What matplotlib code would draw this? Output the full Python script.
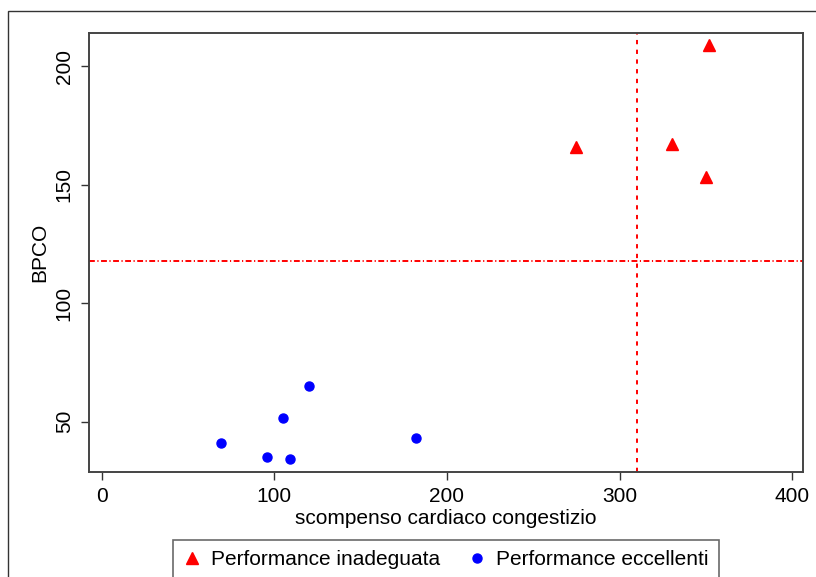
import matplotlib.pyplot as plt
from matplotlib.patches import Rectangle

plt.rcParams['font.family'] = ['Liberation Sans', 'DejaVu Sans']

# scompenso cardiaco congestizio (x) vs BPCO (y)
x_inadeguata = [274.7, 330.5, 349.9, 351.7]
y_inadeguata = [165.9, 167.3, 153.5, 209.1]
x_eccellenti = [69.1, 95.5, 109.0, 104.8, 120.2, 182.0]
y_eccellenti = [40.9, 35.0, 34.2, 51.6, 65.1, 43.1]
ref_x = 310
ref_y = 118
xticks = [0, 100, 200, 300, 400]
yticks = [50, 100, 150, 200]

fs = 15

fig = plt.figure(figsize=(8.16, 5.77), dpi=100)
ax = fig.add_axes([89/816, 105/577, 714/816, 439/577])

# outer graph region border (only top and left visible)
fig.patches.append(Rectangle((8/816, -0.1), 1.2, (577-11)/577 + 0.1,
                             transform=fig.transFigure, fill=False,
                             edgecolor='#333333', linewidth=1.0))

ax.plot(x_inadeguata, y_inadeguata, ls='none', marker='^', color='red',
        markersize=9, label='Performance inadeguata')
ax.plot(x_eccellenti, y_eccellenti, ls='none', marker='o', color='blue',
        markersize=6.5, label='Performance eccellenti')

# reference lines (dashes given in multiples of linewidth)
ax.axvline(ref_x, color='#ff0000', linewidth=1.4, dashes=(2.2, 2.8))
ax.axhline(ref_y, color='#ff0000', linewidth=1.4, dashes=(3, 1.3, 0.6, 1.3))

ax.set_xlim(-7.4, 406.3)
ax.set_ylim(28.8, 214.1)
ax.set_xticks(xticks)
ax.set_yticks(yticks)
ax.tick_params(labelsize=fs, length=6, width=1, color='#333333', pad=5)
for lbl in ax.get_yticklabels():
    lbl.set_rotation(90)
    lbl.set_va('center')
for s in ax.spines.values():
    s.set_color('#444444')
    s.set_linewidth(1.4)

ax.set_xlabel('scompenso cardiaco congestizio', fontsize=fs, labelpad=2)
ax.set_ylabel('BPCO', fontsize=fs, labelpad=4)

leg = fig.legend(handles=ax.get_lines()[:2], loc='upper center',
                 bbox_to_anchor=(446/816, 37/577), ncol=2, fontsize=fs,
                 frameon=True, fancybox=False, edgecolor='#444444',
                 handlelength=0.8, handletextpad=0.5, columnspacing=1.4,
                 borderpad=0.5, borderaxespad=0)
leg.get_frame().set_linewidth(1.2)

fig.savefig('out.png', dpi=100)
